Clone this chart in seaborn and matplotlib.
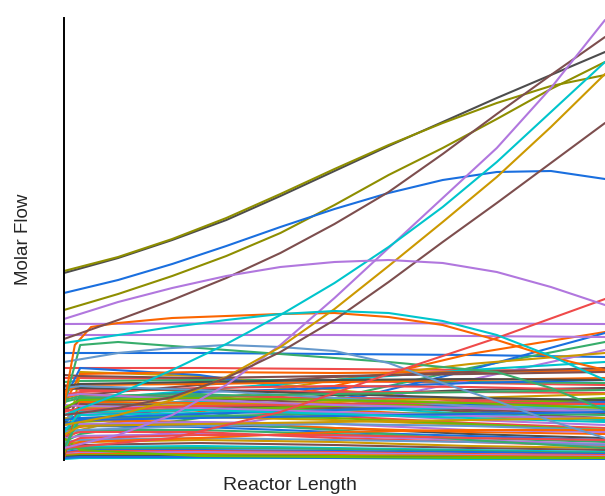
import numpy as np
import pandas as pd
import matplotlib
matplotlib.use("Agg")
import matplotlib.pyplot as plt
import seaborn as sns

# Species colours
PAL = {
    "blue": "#1a6fdf", "green": "#37ad6b", "purple": "#b177de", "gold": "#cc9900",
    "cyan": "#00c5cc", "brown": "#7d4e4e", "olive": "#8e8e00", "orange": "#fb6500",
    "steel": "#6699cc", "lime": "#6fb802", "red": "#ef4a4a", "gray": "#4d4d4d",
}

# Axial positions (normalised reactor length)
x_fine = [0.0, 0.1, 0.2, 0.3, 0.4, 0.5, 0.6, 0.7, 0.8, 0.9, 1.0]
x_coarse = [0.0, 0.03, 0.25, 0.5, 0.75, 1.0]
x_entry = [0.0, 0.02, 0.05, 0.1, 0.2, 0.3, 0.4, 0.5, 0.6, 0.7, 0.8, 0.9, 1.0]
x_sparse = [0.0, 0.2, 0.4, 0.6, 0.8, 1.0]
x_drop = [0.0, 0.03, 0.1, 0.3, 0.5, 0.6, 0.8, 0.9, 1.0]

# Major products, sampled on x_fine
major_colors = ["gray", "olive", "olive", "blue", "brown", "purple", "cyan",
                "gold", "brown", "purple", "cyan"]
major_flows = [
    [187, 202, 220, 240, 264, 289, 314, 338, 362, 385, 408],
    [189, 203, 221, 242, 266, 291, 315, 337, 357, 374, 385],
    [150, 166, 184, 204, 227, 255, 285, 312, 341, 371, 398],
    [167, 180, 196, 214, 233, 251, 267, 280, 288, 289, 281],
    [121, 140, 160, 182, 207, 236, 268, 306, 346, 385, 423],
    [12, 25, 45, 75, 115, 162, 212, 262, 312, 372, 440],
    [45, 66, 90, 116, 145, 177, 213, 253, 298, 348, 398],
    [35, 45, 60, 83, 113, 151, 194, 238, 283, 333, 386],
    [45, 52, 63, 82, 108, 140, 178, 218, 257, 297, 337],
    [141, 158, 172, 184, 193, 198, 200, 197, 188, 173, 155],
    [117, 125, 133, 140, 146, 149, 147, 139, 125, 104, 80],
]

# Intermediates sampled close to the inlet
entry_flow = [55, 115, 133, 137, 142, 144, 146, 147, 143, 135, 120, 103, 90]
drop_flow = [55, 115, 118, 110, 102, 98, 88, 72, 50]
steel_flow = [98, 107, 112, 115, 113, 109, 97, 77, 59, 39, 22]
red_rise_flow = [12, 22, 48, 86, 122, 161]

# Nearly constant species (inlet, middle, outlet)
flat_colors = ["purple", "purple"]
flat_flows = [[136, 137, 136], [125, 125, 123]]

# Minor species, sampled on x_coarse
minor_colors = [
    "blue", "red", "red", "green", "gold", "blue", "orange", "green", "blue",
    "purple", "gold", "cyan", "orange", "brown", "blue", "gray", "red", "steel",
    "lime", "green", "orange", "brown", "purple", "cyan", "red", "gold", "lime",
    "gray", "blue", "green", "orange", "purple", "red", "steel", "gold", "brown",
    "cyan", "green", "blue", "red", "purple", "orange", "lime", "gray", "cyan",
    "blue", "lime", "green", "purple", "steel", "orange", "red",
    "red", "orange", "brown", "gold", "lime", "cyan", "green", "blue", "purple",
    "red", "gray", "orange", "steel", "green", "brown", "gray", "red", "purple",
    "lime", "blue", "cyan", "gold",
]
minor_flows = [
    [107, 107, 107, 106, 105, 103],
    [92, 92, 92, 91, 90, 89],
    [82, 82, 81, 79, 77, 75],
    [78, 79, 80, 80, 78, 77],
    [5, 88, 84, 70, 58, 52],
    [60, 92, 85, 66, 50, 40],
    [30, 33, 48, 74, 106, 128],
    [18, 26, 42, 62, 92, 118],
    [40, 45, 50, 57, 90, 127],
    [14, 18, 30, 52, 80, 110],
    [20, 30, 58, 80, 96, 107],
    [5, 60, 70, 80, 90, 98],
    [55, 86, 88, 87, 88, 90],
    [35, 65, 75, 83, 88, 92],
    [50, 60, 68, 72, 77, 80],
    [20, 40, 55, 65, 70, 72],
    [75, 70, 70, 68, 68, 67],
    [40, 50, 60, 62, 62, 60],
    [10, 55, 52, 50, 55, 62],
    [60, 64, 66, 60, 52, 48],
    [62, 66, 60, 50, 44, 40],
    [50, 58, 62, 57, 48, 42],
    [45, 47, 50, 47, 40, 35],
    [35, 55, 58, 54, 46, 40],
    [48, 52, 50, 44, 37, 32],
    [42, 40, 43, 40, 35, 30],
    [30, 38, 44, 42, 36, 30],
    [38, 36, 35, 32, 26, 22],
    [32, 34, 33, 28, 24, 20],
    [28, 30, 30, 26, 22, 18],
    [25, 40, 38, 32, 28, 26],
    [22, 24, 26, 24, 20, 16],
    [24, 28, 28, 22, 18, 14],
    [18, 20, 22, 20, 18, 15],
    [16, 18, 20, 18, 14, 12],
    [14, 15, 17, 15, 12, 10],
    [12, 13, 14, 12, 10, 8],
    [10, 12, 12, 11, 9, 7],
    [8, 10, 10, 9, 8, 6],
    [7, 9, 9, 8, 6, 5],
    [6, 7, 8, 7, 5, 4],
    [5, 6, 6, 5, 4, 3],
    [4, 5, 5, 4, 3, 2],
    [3, 4, 4, 3, 2, 2],
    [1, 2, 2, 2, 1, 1],
    [2, 3, 3, 2, 2, 1],
    [22, 10, 4, 3, 2, 2],
    [30, 35, 38, 30, 20, 12],
    [35, 36, 38, 36, 30, 28],
    [28, 30, 34, 36, 34, 30],
    [10, 18, 22, 28, 30, 30],
    [15, 22, 25, 25, 22, 20],
    [2, 62, 64, 62, 60, 58],
    [3, 58, 57, 55, 55, 56],
    [4, 56, 54, 52, 50, 47],
    [6, 52, 55, 58, 62, 66],
    [8, 48, 50, 54, 57, 60],
    [10, 45, 47, 50, 52, 54],
    [12, 42, 44, 46, 47, 45],
    [40, 42, 46, 50, 55, 58],
    [55, 54, 52, 48, 44, 42],
    [65, 68, 72, 74, 73, 70],
    [70, 72, 70, 66, 62, 60],
    [68, 75, 76, 78, 80, 82],
    [72, 74, 70, 62, 54, 50],
    [58, 62, 64, 66, 68, 70],
    [85, 84, 82, 84, 86, 88],
    [74, 76, 78, 80, 81, 80],
    [50, 50, 54, 56, 58, 56],
    [64, 66, 60, 55, 52, 48],
    [52, 60, 62, 60, 57, 52],
    [36, 40, 42, 44, 46, 48],
    [28, 48, 50, 46, 42, 38],
    [25, 34, 36, 38, 40, 42],
]

# Assemble long-form table
frames = []
colors = {}


def add(name, xs, ys, color):
    frames.append(pd.DataFrame({"length": xs, "flow": ys, "species": name}))
    colors[name] = PAL[color]


for i, (c, ys) in enumerate(zip(minor_colors, minor_flows)):
    add(f"minor{i}", x_coarse, ys, c)
for i, (c, ys) in enumerate(zip(flat_colors, flat_flows)):
    add(f"flat{i}", [0.0, 0.5, 1.0], ys, c)
add("drop", x_drop, drop_flow, "green")
add("steel", x_fine, steel_flow, "steel")
add("redrise", x_sparse, red_rise_flow, "red")
add("entry", x_entry, entry_flow, "orange")
for i, (c, ys) in enumerate(zip(major_colors, major_flows)):
    add(f"major{i}", x_fine, ys, c)

df = pd.concat(frames, ignore_index=True)

sns.set_style("white")
plt.rcParams["font.family"] = ["Liberation Sans", "DejaVu Sans"]

fig = plt.figure(figsize=(6.05, 4.96), dpi=100)
ax = fig.add_axes([64 / 605, 36 / 496, 541 / 605, 442 / 496])

sns.lineplot(data=df, x="length", y="flow", hue="species", palette=colors,
             estimator=None, sort=False, legend=False, linewidth=1.5, ax=ax)

ax.set_xlim(0, 1)
ax.set_ylim(0, 442)
ax.set_xticks([])
ax.set_yticks([])
for side in ["top", "right", "bottom"]:
    ax.spines[side].set_visible(False)
ax.spines["left"].set_color("black")
ax.spines["left"].set_linewidth(1.4)

ax.set_xlabel("Reactor Length", fontsize=14)
ax.set_ylabel("Molar Flow", fontsize=13.5)
ax.xaxis.set_label_coords(0.418, -0.038)
ax.yaxis.set_label_coords(-0.06, 0.5)

fig.savefig("out.png", dpi=100)
